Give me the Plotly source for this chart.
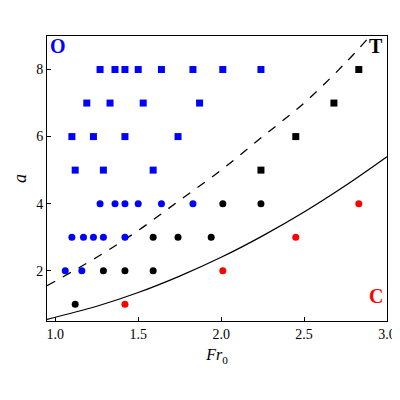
import plotly.graph_objects as go

# data: (Fr0, a) per group
blue_sq_x = [1.27,1.36,1.42,1.50,1.64,1.83,2.01,2.24, 1.19,1.33,1.53,1.87, 1.10,1.23,1.42,1.74, 1.12,1.29,1.59]
blue_sq_y = [8]*8 + [7]*4 + [6]*4 + [5]*3
black_sq_x = [2.83, 2.68, 2.45, 2.24]
black_sq_y = [8, 7, 6, 5]
blue_ci_x = [1.27,1.36,1.42,1.50,1.64,1.83, 1.10,1.17,1.23,1.29,1.42, 1.06,1.16]
blue_ci_y = [4]*6 + [3]*5 + [2]*2
black_ci_x = [2.01,2.24, 1.59,1.74,1.94, 1.29,1.42,1.59, 1.12]
black_ci_y = [4,4, 3,3,3, 2,2,2, 1]
red_ci_x = [2.83, 2.45, 2.01, 1.42]
red_ci_y = [4, 3, 2, 1]
dash_x = [0.95,1.25,1.5,1.75,2.0,2.25,2.5,2.75,2.88]
dash_y = [1.55,2.40,3.2,4.1,5.0,6.0,7.0,8.2,8.9]
solid_x = [0.95,1.25,1.5,1.75,2.0,2.25,2.5,2.75,3.0]
solid_y = [0.55,0.94,1.35,1.84,2.40,3.04,3.75,4.54,5.4]

fig = go.Figure()
fig.add_trace(go.Scatter(x=dash_x, y=dash_y, mode="lines", line=dict(color="black", dash="dash", width=1.3, shape="spline")))
fig.add_trace(go.Scatter(x=solid_x, y=solid_y, mode="lines", line=dict(color="black", width=1.3, shape="spline")))
for xs, ys, c, s in [(blue_sq_x, blue_sq_y, "#0000ff", "square"), (black_sq_x, black_sq_y, "black", "square"),
                     (blue_ci_x, blue_ci_y, "#0000ff", "circle"), (black_ci_x, black_ci_y, "black", "circle"),
                     (red_ci_x, red_ci_y, "#ff0000", "circle")]:
    fig.add_trace(go.Scatter(x=xs, y=ys, mode="markers", marker=dict(color=c, symbol=s, size=7, line=dict(width=0))))

for t, x, y, c in [("<b>O</b>", 0.955, 8.7, "#0000ff"), ("<b>T</b>", 2.99, 8.7, "black"), ("<b>C</b>", 2.99, 1.25, "#ff0000")]:
    fig.add_annotation(x=x, y=y, text=t, showarrow=False, xanchor="left" if x < 1.5 else "right",
                       font=dict(family="Liberation Serif", size=20, color=c))

ax = dict(showgrid=False, zeroline=False, showline=True, linecolor="black", linewidth=1, mirror=True,
          ticks="inside", ticklen=4, tickcolor="black", tickfont=dict(family="Liberation Serif", size=14, color="black"))
fig.update_xaxes(range=[0.95, 3.0], tickvals=[1.0,1.5,2.0,2.5,3.0], ticktext=["1.0","1.5","2.0","2.5","3.0"],
                 title=dict(text="<i>Fr</i><sub>0</sub>", font=dict(family="Liberation Serif", size=16, color="black"), standoff=8), **ax)
fig.update_yaxes(range=[0.5, 9.0], tickvals=[2,4,6,8],
                 title=dict(text="<i>a</i>", font=dict(family="Liberation Serif", size=18, color="black"), standoff=4), **ax)
fig.update_layout(width=400, height=400, margin=dict(l=34, r=12, t=28, b=87), showlegend=False,
                  plot_bgcolor="white", paper_bgcolor="white")
fig.write_html("out.html")
